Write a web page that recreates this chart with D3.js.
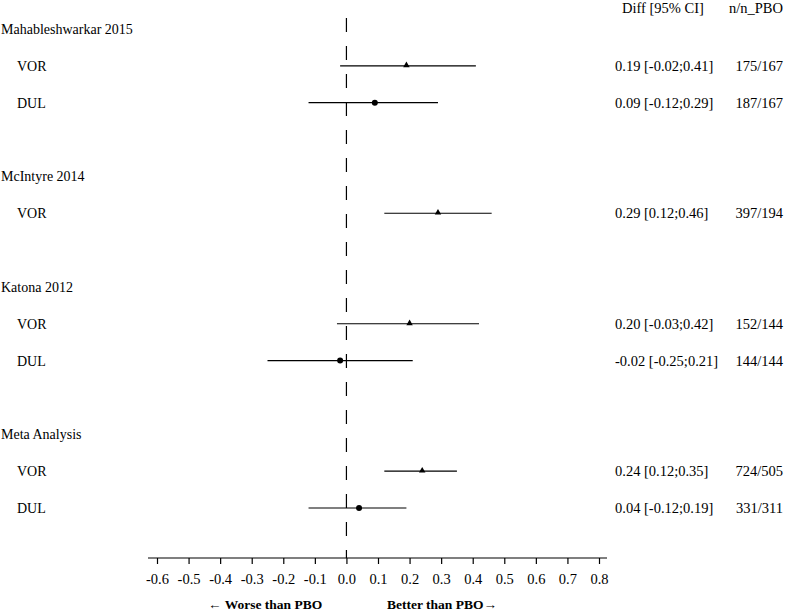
<!DOCTYPE html>
<html lang="en">
<head>
  <meta charset="UTF-8">
  <title>Forest plot</title>
  <style>
    body { margin:0; background:#fff; overflow:hidden; }
    #chart { display:block; }
    text { font-family:"Liberation Serif", "Times New Roman", serif; font-size:14px; fill:#000; }
    .num { font-size:14.5px; }
    .tick text { font-size:14.5px; }
    .bold { font-weight:bold; font-size:13.5px; }
  </style>
</head>
<body>
  <svg id="chart" width="788" height="611"></svg>
  <script src="https://d3js.org/d3.v7.min.js"></script>
  <script>
    const studies = ["Mahableshwarkar 2015", "McIntyre 2014", "Katona 2012", "Meta Analysis"];
    const armStudy = [0, 0, 1, 2, 2, 3, 3];
    const armDrug = ["VOR", "DUL", "VOR", "VOR", "DUL", "VOR", "DUL"];
    const armEst = [0.19, 0.09, 0.29, 0.20, -0.02, 0.24, 0.04];
    const armLo = [-0.02, -0.12, 0.12, -0.03, -0.25, 0.12, -0.12];
    const armHi = [0.41, 0.29, 0.46, 0.42, 0.21, 0.35, 0.19];
    const armN = ["175/167", "187/167", "397/194", "152/144", "144/144", "724/505", "331/311"];
    const tickVals = [-0.6, -0.5, -0.4, -0.3, -0.2, -0.1, 0, 0.1, 0.2, 0.3, 0.4, 0.5, 0.6, 0.7, 0.8];
    const tickLabels = ["-0.6", "-0.5", "-0.4", "-0.3", "-0.2", "-0.1", "0.0", "0.1", "0.2", "0.3", "0.4", "0.5", "0.6", "0.7", "0.8"];

    const svg = d3.select('#chart');
    const x = d3.scaleLinear().domain([-0.6, 0.8]).range([157, 599]);
    const axisY = 558;

    // lay rows out: study header, its arms, then a blank row
    const rows = [];
    let r = 0;
    studies.forEach((s, si) => {
      rows.push({ type: 'study', label: s, row: r++ });
      armStudy.forEach((st, i) => {
        if (st === si) rows.push({ type: 'arm', i, row: r++ });
      });
      r++;
    });
    const y = d3.scaleLinear().domain([0, 13]).range([29, 508]);

    // null line
    svg.append('line')
      .attr('x1', x(0)).attr('x2', x(0))
      .attr('y1', 18).attr('y2', axisY)
      .attr('stroke', '#000').attr('stroke-width', 1.2)
      .attr('stroke-dasharray', '14,14');

    // headers
    svg.append('text').attr('class', 'num').attr('x', 622).attr('y', 8).attr('dy', '0.35em').text('Diff [95% CI]');
    svg.append('text').attr('class', 'num').attr('x', 783).attr('y', 8).attr('dy', '0.35em').attr('text-anchor', 'end').text('n/n_PBO');

    const fmt = v => v.toFixed(2);

    rows.forEach(d => {
      const yy = y(d.row);
      if (d.type === 'study') {
        svg.append('text').attr('x', 1).attr('y', yy).attr('dy', '0.35em').text(d.label);
        return;
      }
      const i = d.i;
      svg.append('text').attr('x', 17).attr('y', yy).attr('dy', '0.35em').text(armDrug[i]);
      svg.append('line')
        .attr('x1', x(armLo[i])).attr('x2', x(armHi[i]))
        .attr('y1', yy).attr('y2', yy)
        .attr('stroke', '#000').attr('stroke-width', 1.2);
      if (armDrug[i] === 'VOR') {
        svg.append('path')
          .attr('d', d3.symbol(d3.symbolTriangle, 18)())
          .attr('transform', `translate(${x(armEst[i])},${yy - 0.5})`)
          .attr('fill', '#000');
      } else {
        svg.append('circle')
          .attr('cx', x(armEst[i])).attr('cy', yy).attr('r', 3)
          .attr('fill', '#000');
      }
      svg.append('text').attr('class', 'num').attr('x', 615).attr('y', yy).attr('dy', '0.35em')
        .text(`${fmt(armEst[i])} [${fmt(armLo[i])};${fmt(armHi[i])}]`);
      svg.append('text').attr('class', 'num').attr('x', 783).attr('y', yy).attr('dy', '0.35em').attr('text-anchor', 'end')
        .text(armN[i]);
    });

    // x axis
    const ax = svg.append('g').attr('transform', `translate(0,${axisY})`)
      .call(d3.axisBottom(x).tickValues(tickVals).tickFormat((v, k) => tickLabels[k]).tickSize(6).tickSizeOuter(0));
    ax.select('.domain').remove();
    ax.append('line').attr('x1', 148).attr('x2', 607).attr('stroke', '#000').attr('stroke-width', 1.2);
    ax.selectAll('.tick line').attr('stroke', '#000').attr('stroke-width', 1.2);
    ax.selectAll('.tick text').attr('font-family', null).attr('font-size', null).attr('y', 21).attr('dy', '0.35em');

    svg.append('text').attr('class', 'bold').attr('x', 208).attr('y', 604).attr('dy', '0.35em')
      .text('\u2190 Worse than PBO');
    svg.append('text').attr('class', 'bold').attr('x', 387).attr('y', 604).attr('dy', '0.35em')
      .text('Better than PBO\u2192');
  </script>
</body>
</html>
